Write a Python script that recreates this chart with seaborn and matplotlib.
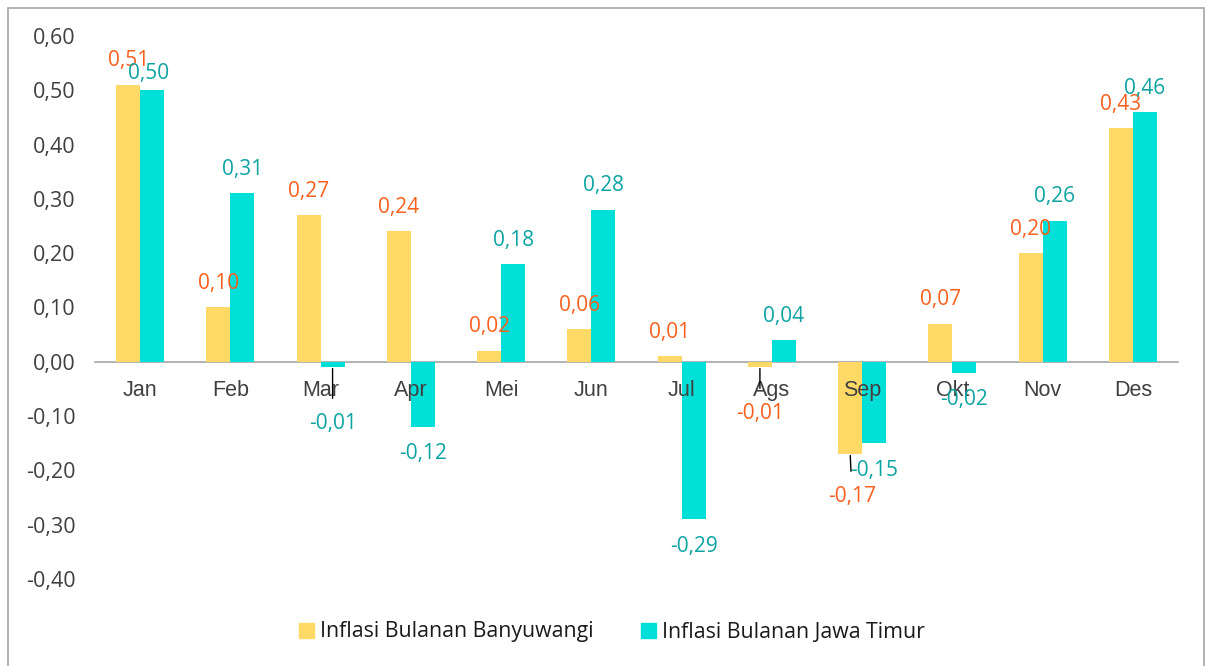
import pandas as pd
import matplotlib.pyplot as plt
import seaborn as sns
from matplotlib.patches import Rectangle

# Data inflasi bulanan (%)
bulan = ["Jan", "Feb", "Mar", "Apr", "Mei", "Jun", "Jul", "Ags", "Sep", "Okt", "Nov", "Des"]
banyuwangi = [0.51, 0.10, 0.27, 0.24, 0.02, 0.06, 0.01, -0.01, -0.17, 0.07, 0.20, 0.43]
jatim = [0.50, 0.31, -0.01, -0.12, 0.18, 0.28, -0.29, 0.04, -0.15, -0.02, 0.26, 0.46]
seri = ["Inflasi Bulanan Banyuwangi", "Inflasi Bulanan Jawa Timur"]

df = pd.DataFrame({
    "bulan": bulan * 2,
    "nilai": banyuwangi + jatim,
    "seri": [seri[0]] * len(bulan) + [seri[1]] * len(bulan),
})

sns.set_style("white")
plt.rcParams["font.family"] = ["Open Sans", "DejaVu Sans"]

warna_bar = ["#FFD966", "#00E0D8"]
warna_label = ["#F8601E", "#0EA3A3"]

W, H = 1206, 666
fig = plt.figure(figsize=(W / 100, H / 100), dpi=100)
ax = fig.add_axes([95 / W, 1 - 579 / H, (1178 - 95) / W, (579 - 36) / H])

sns.barplot(data=df, x="bulan", y="nilai", hue="seri", palette=warna_bar,
            width=0.53, gap=0, saturation=1, linewidth=0, legend=True, ax=ax)
ax.set_axisbelow(False)

ax.set_xlim(-0.5, 11.5)
ax.set_ylim(-0.4, 0.6)
ax.set_yticks([i / 10 for i in range(-4, 7)])
ax.set_yticklabels([f"{v / 10:.2f}".replace(".", ",") for v in range(-4, 7)],
                   fontsize=15.5, color="#404040")
ax.tick_params(axis="y", length=0, pad=14)
ax.set_xlabel("")
ax.set_ylabel("")

for s in ["left", "right", "top"]:
    ax.spines[s].set_visible(False)
ax.spines["bottom"].set_position(("data", 0))
ax.spines["bottom"].set_color("#A6A6A6")
ax.spines["bottom"].set_linewidth(1.2)
ax.spines["bottom"].set_zorder(0.5)
ax.set_xticks([i + 0.5 for i in range(-1, 12)], minor=True)
ax.tick_params(axis="x", which="major", length=0, pad=13)
ax.tick_params(axis="x", which="minor", length=5, color="#A6A6A6", width=1.2, direction="out")
for t in ax.get_xticklabels():
    t.set_fontfamily(["Liberation Sans", "DejaVu Sans"])
    t.set_fontsize(15.5)
    t.set_color("#404040")

# label data, offset dalam piksel dari ujung bar
khusus = {(0, 7): (0, -46, True), (0, 8): (2, -42, True),
          (1, 0): (-4, 17, False), (1, 2): (0, -56, True)}
for k, cont in enumerate(ax.containers):
    for i, bar in enumerate(cont):
        v = bar.get_height()
        cx = bar.get_x() + bar.get_width() / 2
        dx, dy, garis = khusus.get((k, i), (0, 24 if v >= 0 else -27, False))
        teks = f"{v:.2f}".replace(".", ",")
        props = dict(arrowstyle="-", color="black", lw=1, shrinkA=8, shrinkB=1) if garis else None
        ax.annotate(teks, xy=(cx, v), xytext=(dx, dy), textcoords="offset pixels",
                    ha="center", va="center", fontsize=15, color=warna_label[k],
                    arrowprops=props, zorder=4)

ax.get_legend().remove()
handles = [Rectangle((0, 0), 1, 1, color=c) for c in warna_bar]
fig.legend(handles, seri, loc="center", bbox_to_anchor=(612 / W, 1 - 632 / H),
           ncol=2, frameon=False, fontsize=15.3, handlelength=0.7, handleheight=0.7,
           handletextpad=0.3, columnspacing=2.2, labelcolor="#1a1a1a")

# bingkai tipis di sekeliling gambar
fig.patches.append(Rectangle((8 / W, -0.1), (1204 - 8) / W, 1.1 - 8 / H,
                             transform=fig.transFigure, fill=False,
                             edgecolor="#A6A6A6", linewidth=1.2))

fig.savefig("out.png", dpi=100)
